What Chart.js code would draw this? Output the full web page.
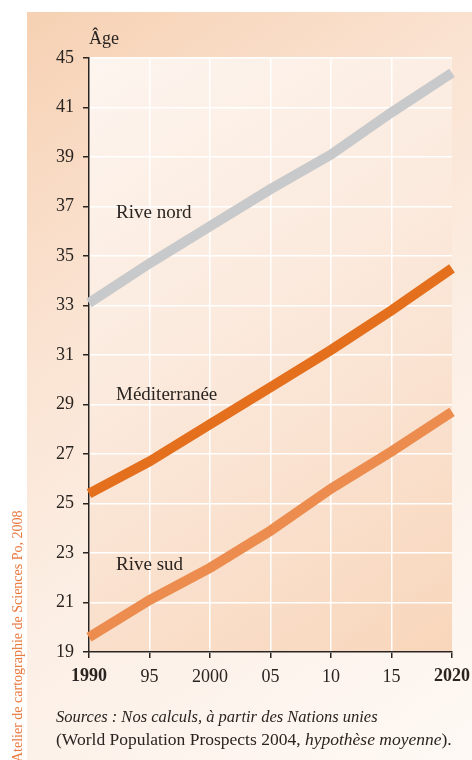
<!DOCTYPE html>
<html>
<head>
<meta charset="utf-8">
<script src="https://cdn.jsdelivr.net/npm/chart.js@4"></script>
<style>
  body { margin: 0; background: #fff; overflow: hidden; }
  #wrap { position: relative; width: 472px; height: 760px; font-family: "Liberation Serif", serif; color: #2a2421; }
  #panel { position: absolute; left: 27px; top: 12px; width: 445px; height: 748px;
    background: linear-gradient(145deg, #f6d1b3 0%, #fae2d0 30%, #fcefe5 60%, #fef9f5 100%); }
  #chart { position: absolute; left: 0; top: 0; }
  .lbl { position: absolute; font-size: 19px; line-height: 22px; white-space: nowrap; }
  #sources { position: absolute; left: 56px; top: 706px; font-size: 16.5px; line-height: 22px; white-space: nowrap; }
  #sources .l2 { font-size: 17.5px; }
  #credit { position: absolute; left: 0; top: 0; font-size: 14px; line-height: 16px; white-space: nowrap;
    color: #e8763a; transform-origin: 0 0; transform: translate(10px, 762px) rotate(-90deg); }
</style>
</head>
<body>
<div id="wrap">
  <div id="panel"></div>
  <canvas id="chart" width="472" height="760"></canvas>
  <div class="lbl" style="left:89px; top:28px; font-size:18px; line-height:20px;">Âge</div>
  <div class="lbl" style="left:116px; top:201px;">Rive nord</div>
  <div class="lbl" style="left:116px; top:383px;">Méditerranée</div>
  <div class="lbl" style="left:116px; top:553px;">Rive sud</div>
  <div id="sources"><i>Sources : Nos calculs, à partir des Nations unies</i><br><span class="l2">(World Population Prospects 2004, <i>hypothèse moyenne</i>).</span></div>
  <div id="credit">Atelier de cartographie de Sciences Po, 2008</div>
</div>
<script>
// années (axe horizontal)
const years = ['1990', '95', '2000', '05', '10', '15', '2020'];

// âge médian par zone
const riveNord = [33.1, 34.7, 36.2, 37.7, 39.1, 40.8, 42.4];
const mediterranee = [25.4, 26.7, 28.2, 29.7, 31.2, 32.8, 34.5];
const riveSud = [19.6, 21.1, 22.4, 23.9, 25.6, 27.1, 28.7];

// graduations de l'axe vertical (la dernière est étiquetée 45 sur l'original)
const yTickValues = [19, 21, 23, 25, 27, 29, 31, 33, 35, 37, 39, 41, 43];
const yTickLabels = ['19', '21', '23', '25', '27', '29', '31', '33', '35', '37', '39', '41', '45'];

const plotBg = {
  id: 'plotBg',
  beforeDraw(chart) {
    const { ctx, chartArea: a } = chart;
    const g = ctx.createLinearGradient(a.left, a.top, a.right, a.bottom);
    g.addColorStop(0, '#fdf5ef');
    g.addColorStop(0.45, '#fbe9dc');
    g.addColorStop(1, '#f8d6bb');
    ctx.save();
    ctx.fillStyle = g;
    ctx.fillRect(a.left, a.top, a.right - a.left, a.bottom - a.top);
    ctx.restore();
  }
};

const font = { family: '"Liberation Serif", serif', size: 18 };

new Chart(document.getElementById('chart'), {
  type: 'line',
  data: {
    labels: years,
    datasets: [
      { label: 'Rive nord', data: riveNord, borderColor: '#c8c9cb' },
      { label: 'Méditerranée', data: mediterranee, borderColor: '#e4701e' },
      { label: 'Rive sud', data: riveSud, borderColor: '#ec8d4f' }
    ].map(d => Object.assign(d, {
      borderWidth: 10, pointRadius: 0, tension: 0, clip: false,
      borderCapStyle: 'butt', borderJoinStyle: 'miter', fill: false
    }))
  },
  options: {
    responsive: false,
    animation: false,
    devicePixelRatio: 1,
    layout: { padding: { top: 58, right: 20, bottom: 68, left: 0 } },
    plugins: { legend: { display: false }, tooltip: { enabled: false } },
    scales: {
      x: {
        offset: false,
        afterFit: s => { s.height = 40; s.paddingLeft = 0; s.paddingRight = 0; },
        border: { color: '#2a2421', width: 1.5 },
        grid: {
          color: c => c.index === years.length - 1 ? 'rgba(0,0,0,0)' : '#ffffff',
          lineWidth: 1.5, tickColor: '#2a2421', tickLength: 6, tickWidth: 1.5
        },
        ticks: {
          color: '#2a2421', padding: 8, maxRotation: 0, autoSkip: false,
          font: c => Object.assign({}, font, {
            weight: (c.index === 0 || c.index === years.length - 1) ? 'bold' : 'normal'
          })
        }
      },
      y: {
        min: yTickValues[0],
        max: yTickValues[yTickValues.length - 1],
        afterFit: s => { s.width = 89; s.paddingTop = 0; s.paddingBottom = 0; },
        afterBuildTicks: s => { s.ticks = yTickValues.map(v => ({ value: v })); },
        border: { color: '#2a2421', width: 1.5 },
        grid: { color: '#ffffff', lineWidth: 1.5, tickColor: '#2a2421', tickLength: 6, tickWidth: 1.5 },
        ticks: {
          color: '#2a2421', padding: 9, font: font,
          callback: v => yTickLabels[yTickValues.indexOf(v)]
        }
      }
    }
  },
  plugins: [plotBg]
});
</script>
</body>
</html>
